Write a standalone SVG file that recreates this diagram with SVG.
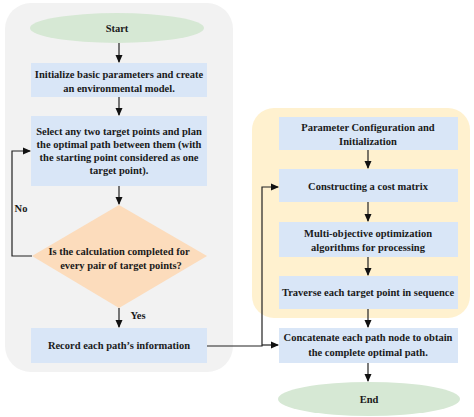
<svg xmlns="http://www.w3.org/2000/svg" width="474" height="417" viewBox="0 0 474 417">
<defs>
<marker id="ah" markerWidth="8" markerHeight="8" refX="7" refY="4" orient="auto" markerUnits="userSpaceOnUse">
<path d="M0,0.5 L8,4 L0,7.5 Z" fill="#111"/>
</marker>
<style>
.box{fill:#d9e6f7;}
.term{fill:#d6e8d4;}
.dec{fill:#fcdcbc;}
.t{font-family:"Liberation Serif","Times New Roman",serif;font-weight:bold;font-size:10.5px;fill:#1a1a1a;text-anchor:middle;}
.c{fill:none;stroke:#222;stroke-width:1.2;}
</style>
</defs>
<rect width="474" height="417" fill="#ffffff"/>
<rect id="panel-left" x="5" y="3" width="228" height="369" rx="26" fill="#f2f2f2"/>
<rect id="panel-right" x="252" y="108" width="218" height="210" rx="22" fill="#fff1cf"/>

<g id="start"><ellipse class="term" cx="117" cy="28" rx="87" ry="15"/><text class="t" x="117" y="32">Start</text></g>
<g id="init"><rect class="box" x="31" y="63" width="176" height="34"/><text class="t" x="119" y="78">Initialize basic parameters and create</text><text class="t" x="119" y="92">an environmental model.</text></g>
<g id="select"><rect class="box" x="31" y="116" width="176" height="70"/><text class="t" x="119" y="135">Select any two target points and plan</text><text class="t" x="119" y="148">the optimal path between them (with</text><text class="t" x="119" y="161">the starting point considered as one</text><text class="t" x="119" y="174">target point).</text></g>
<g id="decision"><polygon class="dec" points="119,205 207,256 119,308 32,256"/><text class="t" x="119" y="255">Is the calculation completed for</text><text class="t" x="121" y="269">every pair of target points?</text></g>
<g id="record"><rect class="box" x="31" y="328" width="176" height="35"/><text class="t" x="119" y="349">Record each path’s information</text></g>

<g id="param"><rect class="box" x="279" y="117" width="179" height="33"/><text class="t" x="368" y="131">Parameter Configuration and</text><text class="t" x="368" y="145">Initialization</text></g>
<g id="cost"><rect class="box" x="279" y="169" width="179" height="33"/><text class="t" x="368" y="190">Constructing a cost matrix</text></g>
<g id="multi"><rect class="box" x="279" y="222" width="179" height="35"/><text class="t" x="368" y="237">Multi-objective optimization</text><text class="t" x="368" y="251">algorithms for processing</text></g>
<g id="traverse"><rect class="box" x="279" y="276" width="179" height="33"/><text class="t" x="368" y="296">Traverse each target point in sequence</text></g>
<g id="concat"><rect class="box" x="279" y="328" width="179" height="35"/><text class="t" x="368" y="341">Concatenate each path node to obtain</text><text class="t" x="368" y="356">the complete optimal path.</text></g>
<g id="end"><ellipse class="term" cx="369" cy="399" rx="91" ry="17"/><text class="t" x="369" y="403">End</text></g>

<g id="connectors">
<line class="c" x1="119" y1="43" x2="119" y2="62" marker-end="url(#ah)"/>
<line class="c" x1="119" y1="97" x2="119" y2="115" marker-end="url(#ah)"/>
<line class="c" x1="119" y1="186" x2="119" y2="204" marker-end="url(#ah)"/>
<polyline class="c" points="32,256 12,256 12,151 30,151" marker-end="url(#ah)"/>
<text class="t" x="21" y="212">No</text>
<line class="c" x1="119" y1="308" x2="119" y2="327" marker-end="url(#ah)"/>
<text class="t" x="138" y="319">Yes</text>
<polyline class="c" points="207,346 262,346 262,187 278,187" marker-end="url(#ah)"/>
<line class="c" x1="262" y1="345" x2="278" y2="345" marker-end="url(#ah)"/>
<line class="c" x1="368" y1="150" x2="368" y2="168" marker-end="url(#ah)"/>
<line class="c" x1="368" y1="202" x2="368" y2="221" marker-end="url(#ah)"/>
<line class="c" x1="368" y1="257" x2="368" y2="275" marker-end="url(#ah)"/>
<line class="c" x1="368" y1="309" x2="368" y2="327" marker-end="url(#ah)"/>
<line class="c" x1="368" y1="363" x2="368" y2="381" marker-end="url(#ah)"/>
</g>
</svg>
